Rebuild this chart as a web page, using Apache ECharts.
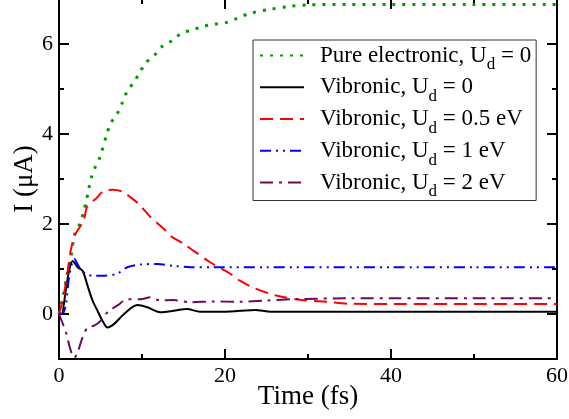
<!DOCTYPE html>
<html>
<head>
<meta charset="utf-8">
<script src="https://cdn.jsdelivr.net/npm/echarts@6/dist/echarts.min.js"></script>
<style>
  html, body { margin: 0; padding: 0; background: #fff; }
  #chart { width: 569px; height: 419px; }
</style>
</head>
<body>
<div id="chart"></div>
<script>
// data (time in fs, current in uA)
var tPure = [0, 0.5, 1, 1.44, 1.9, 2.56, 2.96, 3.28, 3.56, 3.88, 4.36, 4.96, 5.76, 6.24, 7.04, 7.64, 8.16, 8.96, 9.72, 10.44, 11.5, 12.45, 13.65, 14.77, 16.05, 17.37, 18.7, 20.2, 21.45, 23, 25.4, 28, 30, 35, 40, 50, 60];
var iPure = [0, 0.4, 0.9, 1.27, 1.78, 2.02, 2.27, 2.51, 2.76, 3.02, 3.26, 3.5, 4.0, 4.24, 4.46, 4.7, 4.93, 5.14, 5.36, 5.58, 5.75, 5.95, 6.08, 6.24, 6.31, 6.39, 6.44, 6.48, 6.57, 6.68, 6.77, 6.84, 6.87, 6.88, 6.88, 6.88, 6.88];

var tU0 = [0, 0.3, 0.8, 1.2, 1.64, 2.24, 2.84, 3.44, 4.04, 4.64, 5.24, 5.84, 6.64, 7.84, 9.44, 10.64, 12.2, 13.8, 15.4, 17, 19.4, 21.8, 23.6, 25.5, 30, 40, 50, 60];
var iU0 = [0, 0, 0.5, 0.95, 1.18, 1.04, 0.96, 0.63, 0.3, 0.07, -0.15, -0.3, -0.22, 0, 0.2, 0.15, 0.04, 0.07, 0.11, 0.05, 0.05, 0.07, 0.09, 0.05, 0.05, 0.05, 0.05, 0.05];

var tU05 = [0, 0.5, 1, 1.44, 2.0, 2.96, 3.44, 4.44, 5.44, 6.44, 7.64, 8.64, 9.64, 11.04, 12.64, 13.4, 15, 18.2, 20.6, 21.8, 23.6, 26.2, 29.2, 32.3, 34.7, 40, 50, 60];
var iU05 = [0, 0.35, 0.9, 1.44, 1.78, 2.07, 2.41, 2.56, 2.74, 2.76, 2.72, 2.59, 2.44, 2.15, 1.89, 1.74, 1.56, 1.15, 0.9, 0.74, 0.57, 0.41, 0.31, 0.27, 0.23, 0.22, 0.22, 0.22];

var tU1 = [0, 0.4, 0.84, 1.24, 1.84, 2.44, 3.24, 4.24, 5.44, 7.04, 8.24, 9.84, 11.84, 13.84, 15.85, 18.6, 25, 30, 40, 50, 60];
var iU1 = [0, 0, 0.22, 0.85, 1.22, 1.04, 0.89, 0.85, 0.85, 0.9, 1.04, 1.1, 1.11, 1.07, 1.04, 1.04, 1.04, 1.04, 1.04, 1.04, 1.04];

var tU2 = [0, 0.84, 1.24, 1.64, 1.84, 2.24, 2.84, 3.44, 4.24, 5.04, 5.84, 7.04, 8.24, 9.84, 11, 12.2, 13.8, 15.8, 18.6, 21.8, 25, 28.6, 35, 40, 50, 60];
var iU2 = [0, -0.41, -0.7, -0.93, -0.97, -0.85, -0.52, -0.3, -0.26, -0.15, 0.04, 0.19, 0.33, 0.33, 0.37, 0.3, 0.31, 0.26, 0.28, 0.27, 0.3, 0.33, 0.35, 0.35, 0.35, 0.35];

var yMajor = [0, 2, 4, 6];
var yMinor = [1, 3, 5];

var names = ['Pure electronic, U_d = 0', 'Vibronic, U_d = 0', 'Vibronic, U_d = 0.5 eV', 'Vibronic, U_d = 1 eV', 'Vibronic, U_d = 2 eV'];

function pairs(t, v) {
    var out = [];
    for (var i = 0; i < t.length; i++) out.push([t[i], v[i]]);
    return out;
}

var serif = 'Liberation Serif';

function yAx(pos, ticks, len, labels, name) {
    return {
        type: 'value', position: pos, min: -1, max: 7,
        name: name || '', nameLocation: 'middle', nameGap: 21, nameMoveOverlap: false,
        nameTextStyle: { fontFamily: serif, fontSize: 27, color: '#000' },
        axisLine: { show: true, onZero: false, lineStyle: { color: '#000', width: 2 } },
        axisTick: { show: true, inside: true, length: len, customValues: ticks, lineStyle: { color: '#000', width: 2 } },
        axisLabel: { show: labels, customValues: yMajor, margin: 6, fontFamily: serif, fontSize: 22, color: '#000' },
        splitLine: { show: false }
    };
}

function xAx(pos, labels, name) {
    return {
        type: 'value', position: pos, min: 0, max: 60, interval: 20,
        name: name || '', nameLocation: 'middle', nameGap: 24, nameMoveOverlap: false,
        nameTextStyle: { fontFamily: serif, fontSize: 27, color: '#000' },
        axisLine: { show: true, onZero: false, lineStyle: { color: '#000', width: 2 } },
        axisTick: { show: true, inside: true, length: 10, lineStyle: { color: '#000', width: 2 } },
        minorTick: { show: true, splitNumber: 2, length: 5, lineStyle: { color: '#000', width: 2 } },
        axisLabel: { show: labels, margin: 6, fontFamily: serif, fontSize: 22, color: '#000' },
        splitLine: { show: false }
    };
}

var chart = echarts.init(document.getElementById('chart'));
var option = {
    animation: false,
    backgroundColor: '#fff',
    textStyle: { fontFamily: serif },
    grid: { left: 59, right: 12, top: -1, bottom: 60, outerBoundsMode: 'none', containLabel: false },
    xAxis: [xAx('bottom', true, 'Time (fs)'), xAx('top', false)],
    yAxis: [
        yAx('left', yMajor, 10, true, 'I (\u03bcA)'),
        yAx('left', yMinor, 5, false),
        yAx('right', yMajor, 10, false),
        yAx('right', yMinor, 5, false)
    ],
    legend: {
        orient: 'vertical',
        left: 253, top: 40,
        padding: [4, 5, 0, 6],
        itemGap: 2.25,
        itemWidth: 44, itemHeight: 10,
        backgroundColor: '#fff',
        borderColor: '#333', borderWidth: 1, borderRadius: 0,
        itemStyle: { color: 'transparent', borderWidth: 0, opacity: 0 },
        data: names,
        formatter: function (n) {
            var p = n.split('_d');
            return '{a|' + p[0] + '}{s|d}{a|' + p[1] + '}';
        },
        textStyle: {
            fontFamily: serif,
            padding: [0, 0, 0, 11],
            rich: {
                a: { fontFamily: serif, fontSize: 23, color: '#000', lineHeight: 30 },
                s: { fontFamily: serif, fontSize: 17, color: '#000', padding: [19, 0, 0, 0], verticalAlign: 'top' }
            }
        }
    },
    series: [
        { name: names[0], type: 'line', data: pairs(tPure, iPure), showSymbol: false, symbol: 'none', smooth: 0.3,
          lineStyle: { color: '#009a00', width: 3, type: [3, 7], cap: 'butt' }, itemStyle: { color: '#009a00' } },
        { name: names[1], type: 'line', data: pairs(tU0, iU0), showSymbol: false, symbol: 'none', smooth: 0.3,
          lineStyle: { color: '#000', width: 2 }, itemStyle: { color: '#000' } },
        { name: names[2], type: 'line', data: pairs(tU05, iU05), showSymbol: false, symbol: 'none', smooth: 0.3,
          lineStyle: { color: '#ff0000', width: 2, type: [13, 7] }, itemStyle: { color: '#ff0000' } },
        { name: names[3], type: 'line', data: pairs(tU1, iU1), showSymbol: false, symbol: 'none', smooth: 0.3,
          lineStyle: { color: '#0000ff', width: 2, type: [11, 5, 2, 5, 2, 5] }, itemStyle: { color: '#0000ff' } },
        { name: names[4], type: 'line', data: pairs(tU2, iU2), showSymbol: false, symbol: 'none', smooth: 0.3,
          lineStyle: { color: '#6b0a5c', width: 2, type: [13, 6, 3, 6] }, itemStyle: { color: '#6b0a5c' } }
    ]
};
chart.setOption(option);
</script>
</body>
</html>
